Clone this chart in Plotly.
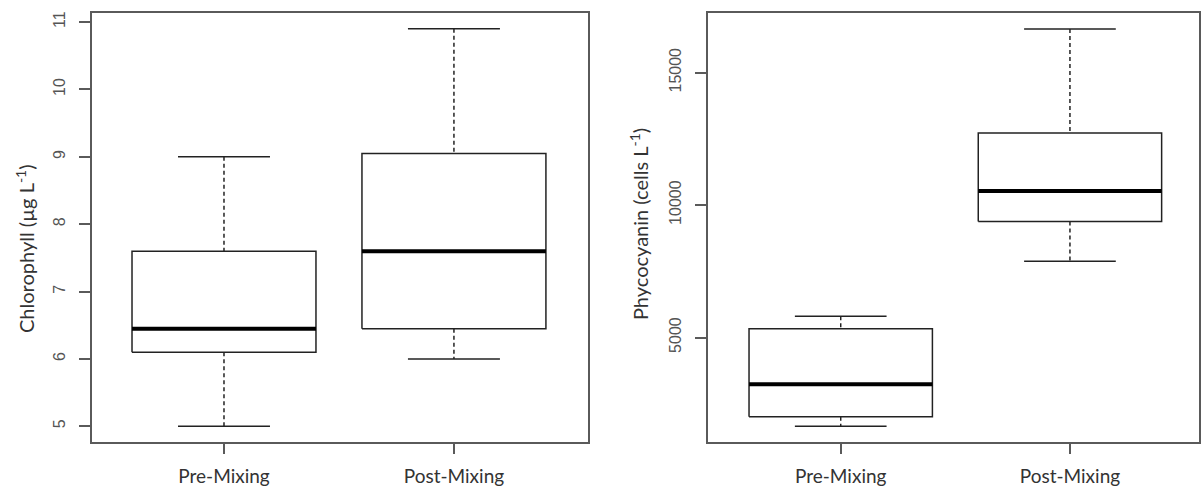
import plotly.graph_objects as go

# ---- data (box statistics) ----
groups = ["Pre-Mixing", "Post-Mixing"]
chl_min = [5.0, 6.0]
chl_q1 = [6.1, 6.45]
chl_med = [6.45, 7.6]
chl_q3 = [7.6, 9.05]
chl_max = [9.0, 10.9]

pc_min = [1650, 7880]
pc_q1 = [2010, 9380]
pc_med = [3240, 10530]
pc_q3 = [5330, 12720]
pc_max = [5800, 16650]

chl_ticks = [5, 6, 7, 8, 9, 10, 11]
pc_ticks = [5000, 10000, 15000]

W, H = 1202, 492
fig = go.Figure()

BOX_HALF = 0.4
CAP_HALF = 0.2
LINE_C = "#222222"


def add_boxes(xa, ya, mn, q1, md, q3, mx):
    for i in range(len(groups)):
        c = i + 1
        # whiskers (dashed)
        fig.add_trace(go.Scatter(x=[c, c, None, c, c], y=[mx[i], q3[i], None, q1[i], mn[i]],
                                 mode="lines", line=dict(color=LINE_C, width=1.5, dash="4px,3px"),
                                 xaxis=xa, yaxis=ya, showlegend=False, hoverinfo="skip"))
        # caps
        fig.add_trace(go.Scatter(x=[c - CAP_HALF, c + CAP_HALF, None, c - CAP_HALF, c + CAP_HALF],
                                 y=[mx[i], mx[i], None, mn[i], mn[i]],
                                 mode="lines", line=dict(color=LINE_C, width=1.5),
                                 xaxis=xa, yaxis=ya, showlegend=False, hoverinfo="skip"))
        # box
        fig.add_trace(go.Scatter(x=[c - BOX_HALF, c + BOX_HALF, c + BOX_HALF, c - BOX_HALF, c - BOX_HALF],
                                 y=[q1[i], q1[i], q3[i], q3[i], q1[i]],
                                 mode="lines", line=dict(color=LINE_C, width=1.5),
                                 fill="toself", fillcolor="white",
                                 xaxis=xa, yaxis=ya, showlegend=False, hoverinfo="skip"))
        # median
        fig.add_trace(go.Scatter(x=[c - BOX_HALF, c + BOX_HALF], y=[md[i], md[i]],
                                 mode="lines", line=dict(color="black", width=4),
                                 xaxis=xa, yaxis=ya, showlegend=False, hoverinfo="skip"))


add_boxes("x", "y", chl_min, chl_q1, chl_med, chl_q3, chl_max)
add_boxes("x2", "y2", pc_min, pc_q1, pc_med, pc_q3, pc_max)

AX_C = "#5a5a5a"
tickfont = dict(family="Liberation Sans, Arial, sans-serif", size=16, color="#555555")
xfont = dict(family="Lato, Open Sans, sans-serif", size=19, color="#333333")
titlefont = dict(family="Lato, Open Sans, sans-serif", size=20, color="#333333")

xcommon = dict(showgrid=False, zeroline=False, showline=True, mirror=True, linecolor=AX_C, linewidth=1.5,
               ticks="outside", ticklen=10, tickwidth=1.5, tickcolor=AX_C,
               tickvals=[1, 2], ticktext=groups, tickfont=xfont, ticklabelstandoff=6)
ycommon = dict(showgrid=False, zeroline=False, showline=True, mirror=True, linecolor=AX_C, linewidth=1.5,
               ticks="outside", ticklen=11, tickwidth=1.5, tickcolor=AX_C,
               tickfont=tickfont, tickangle=-90, ticklabelstandoff=8, tickformat="d")

yb, yt = (H - 442) / H, (H - 11) / H

fig.update_layout(
    width=W, height=H, margin=dict(l=0, r=0, t=0, b=0),
    paper_bgcolor="white", plot_bgcolor="white",
    xaxis=dict(domain=[92 / W, 588 / W], range=[0.426, 2.583], **xcommon),
    yaxis=dict(domain=[yb, yt], range=[4.764, 11.136], tickvals=chl_ticks, **ycommon),
    xaxis2=dict(domain=[708 / W, 1199 / W], range=[0.421, 2.563], anchor="y2", **xcommon),
    yaxis2=dict(domain=[yb, yt], range=[1048, 17252], tickvals=pc_ticks, anchor="x2", **ycommon),
    annotations=[
        dict(text="Chlorophyll (µg L<sup>-1</sup>)", x=25 / W, y=(H - 248) / H, xref="paper", yref="paper",
             textangle=-90, showarrow=False, xanchor="center", yanchor="middle", font=titlefont),
        dict(text="Phycocyanin (cells L<sup>-1</sup>)", x=639 / W, y=(H - 223) / H, xref="paper", yref="paper",
             textangle=-90, showarrow=False, xanchor="center", yanchor="middle", font=titlefont),
    ],
)

fig.write_html("out.html")
